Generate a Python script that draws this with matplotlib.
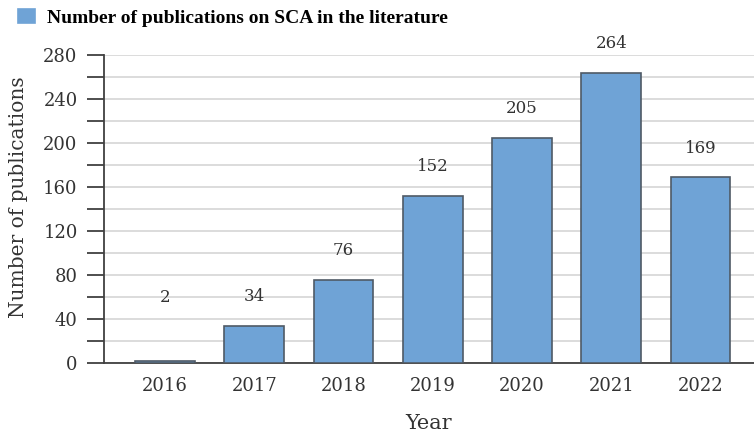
import matplotlib.pyplot as plt
from matplotlib.ticker import MultipleLocator

# Publicaciones sobre SCA por año
anios = ["2016", "2017", "2018", "2019", "2020", "2021", "2022"]
publicaciones = [2, 34, 76, 152, 205, 264, 169]

color_barra = "#6fa3d6"
color_borde = "#4f5a66"
color_texto = "#333333"

plt.rcParams["font.family"] = ["DejaVu Serif"]

fig = plt.figure(figsize=(7.54, 4.38), dpi=100)
ax = fig.add_axes([0.138, 0.171, 0.862, 0.703])

x = range(len(anios))
ax.bar(x, publicaciones, width=0.67, color=color_barra, edgecolor=color_borde,
       linewidth=1.2, zorder=3, label="Number of publications on SCA in the literature")

# Etiquetas con el valor encima de cada barra
for xi, valor in zip(x, publicaciones):
    ax.annotate(str(valor), (xi, max(valor, 33)), xytext=(0, 21), textcoords="offset points",
                ha="center", va="center", fontsize=12, color=color_texto)

ax.set_ylim(0, 280)
ax.set_xlim(-0.685, 6.6)
ax.yaxis.set_major_locator(MultipleLocator(40))
ax.yaxis.set_minor_locator(MultipleLocator(20))
ax.set_xticks(list(x))
ax.set_xticklabels(anios)
ax.grid(axis="y", which="both", color="#d9d9d9", linewidth=1.3, zorder=0)

ax.tick_params(axis="y", which="both", length=12, width=1.3, color="#404040",
               labelsize=13, labelcolor=color_texto, pad=7)
ax.tick_params(axis="x", length=0, labelsize=13, labelcolor=color_texto, pad=10)

for lado in ["top", "right"]:
    ax.spines[lado].set_visible(False)
for lado in ["left", "bottom"]:
    ax.spines[lado].set_color("#404040")
    ax.spines[lado].set_linewidth(1.3)

ax.set_ylabel("Number of publications", fontsize=14.5, color=color_texto)
ax.yaxis.set_label_coords(-0.117, 0.54)
ax.set_xlabel("Year", fontsize=15, color=color_texto, labelpad=14)

leg = fig.legend(loc="upper left", bbox_to_anchor=(0.0, 1.02), frameon=False,
                 prop={"family": "Liberation Serif", "weight": "bold", "size": 14},
                 handlelength=0.9, handleheight=0.75, handletextpad=0.6)
for parche in leg.get_patches():
    parche.set_edgecolor(color_barra)

fig.savefig("out.png", dpi=100)
